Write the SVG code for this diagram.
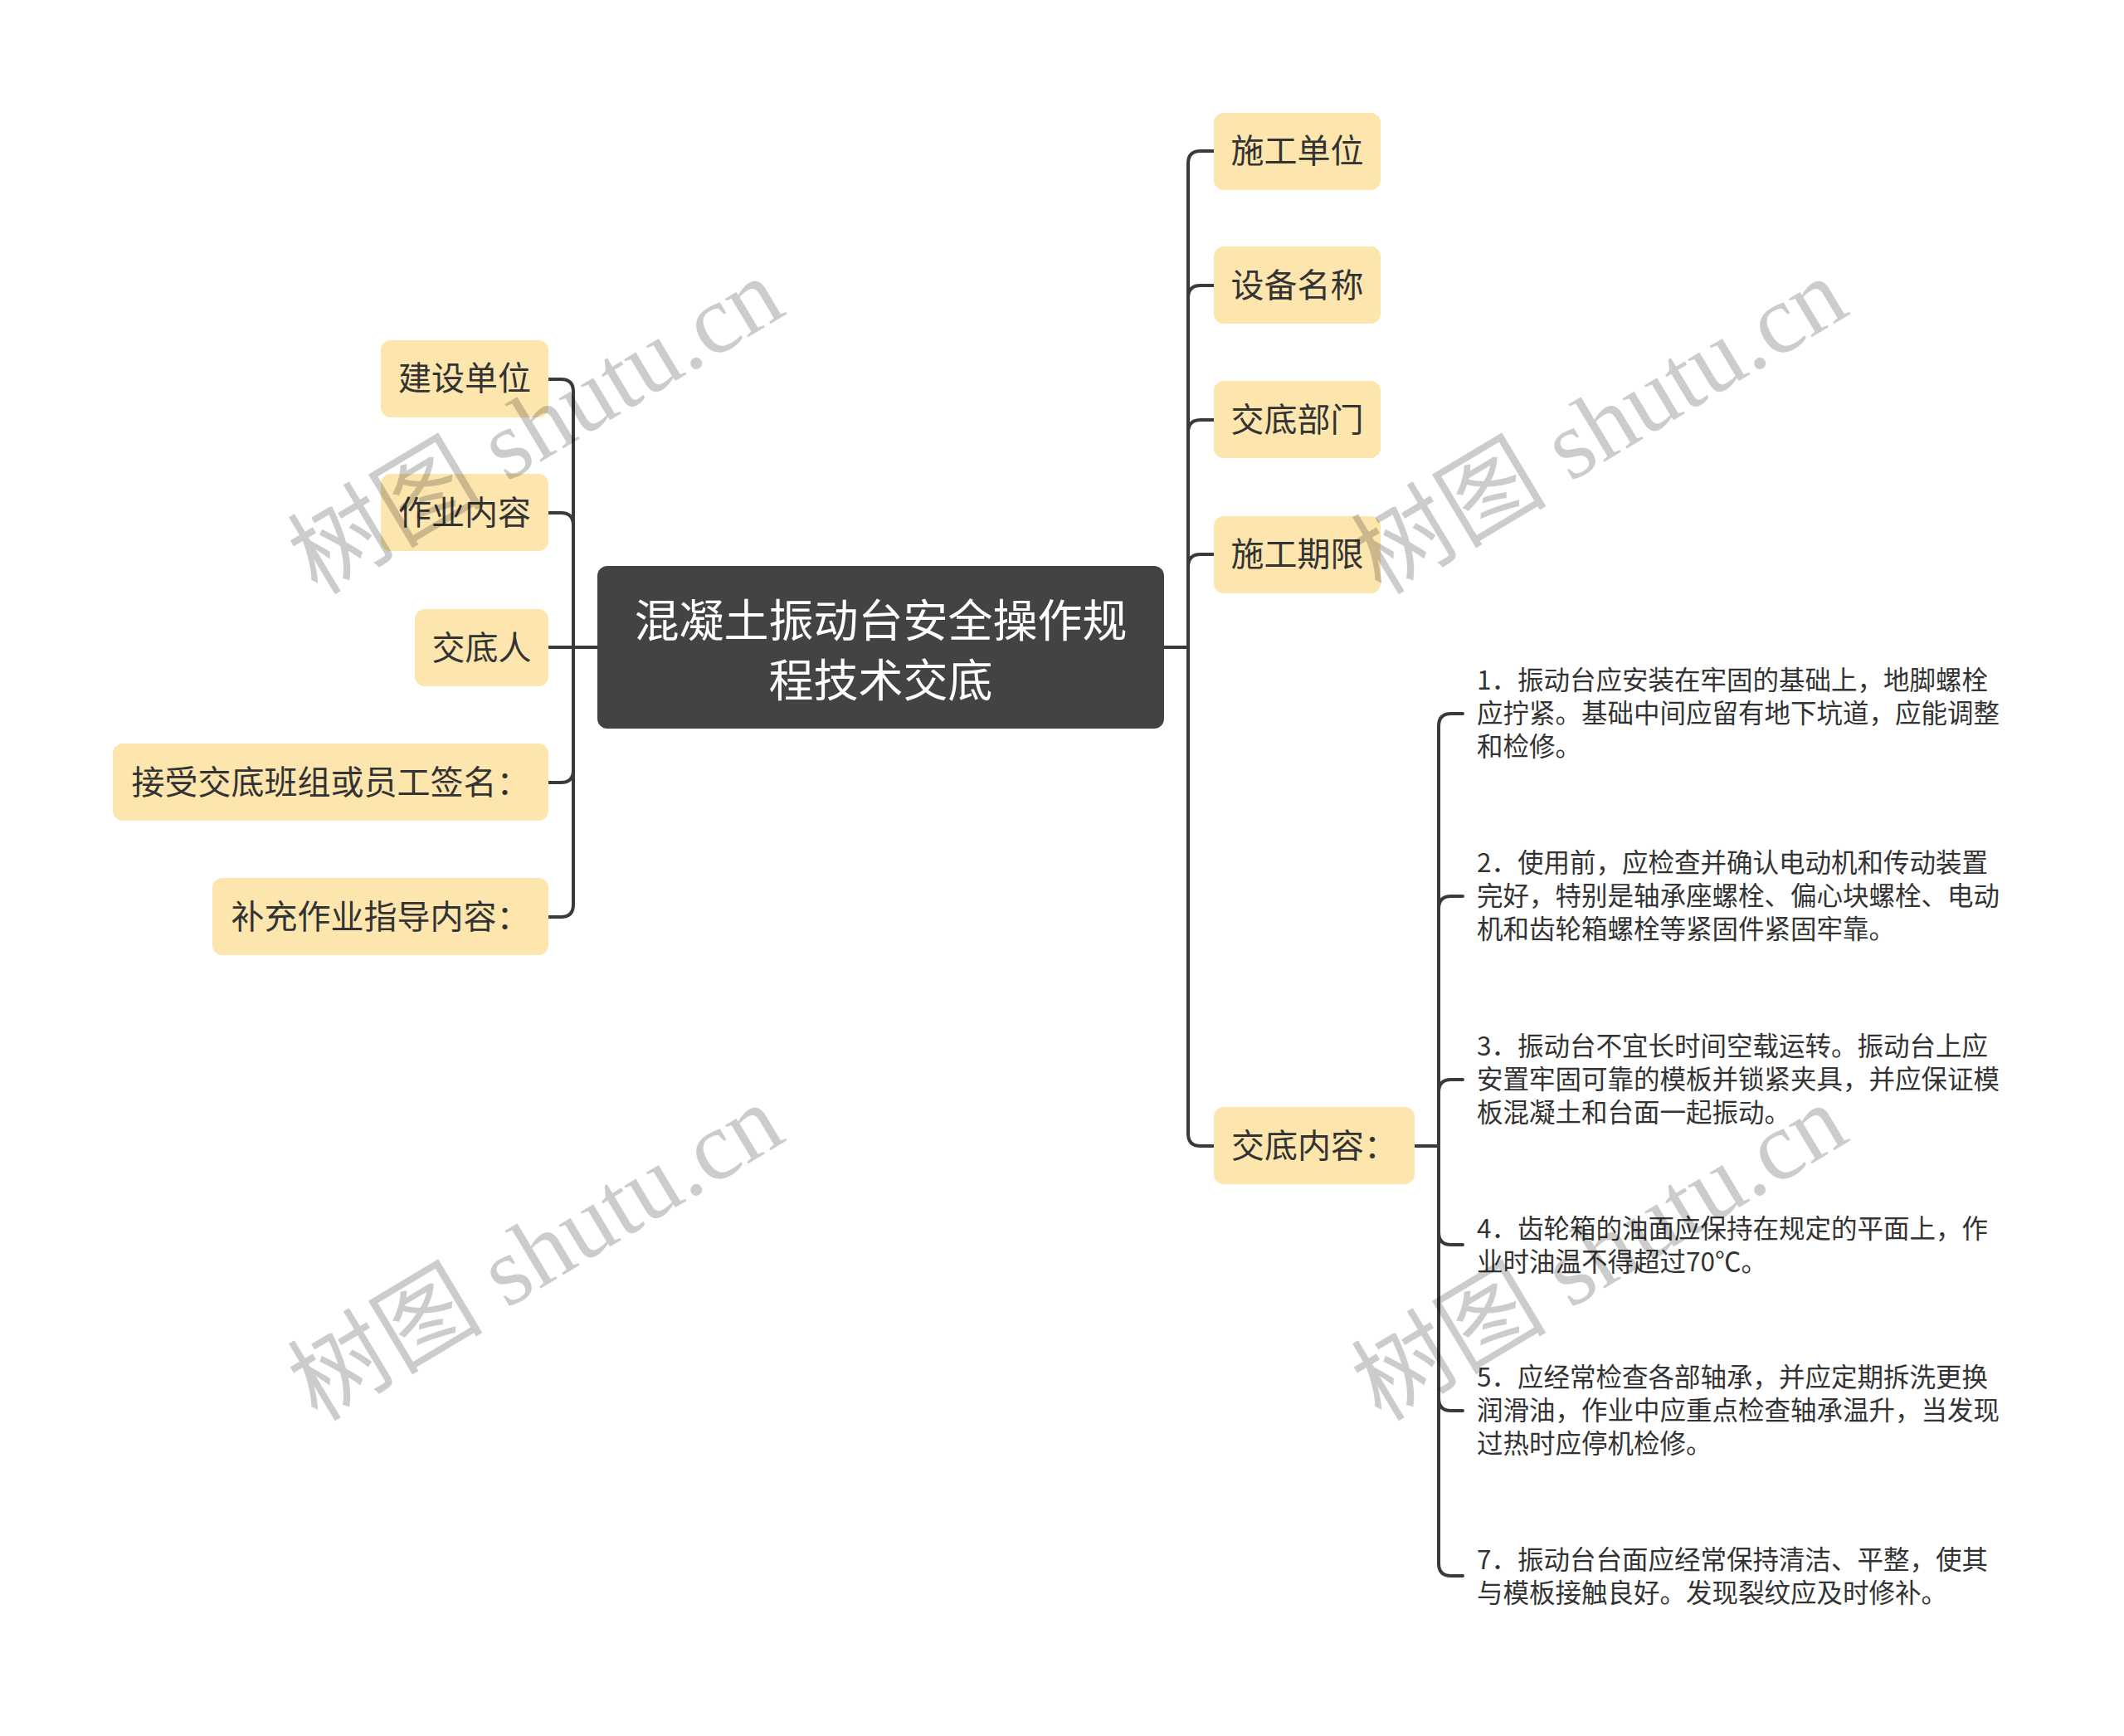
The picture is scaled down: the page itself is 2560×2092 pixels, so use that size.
<svg xmlns="http://www.w3.org/2000/svg" width="2560" height="2092" viewBox="0 0 2560 2092">
<style>
.bg{fill:#ffffff}
.root rect{fill:#434343}
.root text{fill:#ffffff;font-family:"Noto Sans CJK SC","Noto Sans",sans-serif;font-size:54px;text-anchor:middle;dominant-baseline:central}
.n1 rect{fill:#fde5ae}
.n1 text{fill:#333333;font-family:"Noto Sans CJK SC","Noto Sans",sans-serif;font-size:40px;text-anchor:middle;dominant-baseline:central}
.n2 text{fill:#333333;font-family:"Noto Sans CJK SC","Noto Sans",sans-serif;font-size:31.5px;dominant-baseline:central}
.wm{fill:#000000;fill-opacity:0.2;font-family:"Liberation Serif","Noto Sans CJK SC",serif;font-size:118px;text-anchor:middle;dominant-baseline:central}
#connectors path{fill:none;stroke:#3a3a3a;stroke-width:4;stroke-linecap:round;stroke-linejoin:round}
</style>
<rect class="bg" x="0" y="0" width="2560" height="2092"/>

<g id="connectors">
  <path d="M720,780 H661"/>
  <path d="M691,780 V472 Q691,457 676,457 H661"/>
  <path d="M691,780 V633 Q691,618 676,618 H661"/>
  <path d="M691,780 V928 Q691,943 676,943 H661"/>
  <path d="M691,780 V1090 Q691,1105 676,1105 H661"/>
  <path d="M1403,780 H1432"/>
  <path d="M1432,780 V197 Q1432,182 1447,182 H1463"/>
  <path d="M1432,780 V359 Q1432,344 1447,344 H1463"/>
  <path d="M1432,780 V521 Q1432,506 1447,506 H1463"/>
  <path d="M1432,780 V683 Q1432,668 1447,668 H1463"/>
  <path d="M1432,780 V1366 Q1432,1381 1447,1381 H1463"/>
  <path d="M1705,1381 H1734"/>
  <path d="M1734,1381 V875 Q1734,860 1749,860 H1763"/>
  <path d="M1734,1381 V1095 Q1734,1080 1749,1080 H1763"/>
  <path d="M1734,1381 V1316 Q1734,1301 1749,1301 H1763"/>
  <path d="M1734,1381 V1485 Q1734,1500 1749,1500 H1763"/>
  <path d="M1734,1381 V1685 Q1734,1700 1749,1700 H1763"/>
  <path d="M1734,1381 V1884 Q1734,1899 1749,1899 H1763"/>
</g>

<g id="root" class="root">
  <rect x="720" y="682" width="683" height="196" rx="12"/>
  <text x="1061.5" y="744">混凝土振动台安全操作规</text>
  <text x="1061.5" y="816">程技术交底</text>
</g>

<g id="node-jianshe" class="n1"><rect x="459" y="410" width="202" height="93" rx="12"/><text x="560" y="453">建设单位</text></g>
<g id="node-zuoye" class="n1"><rect x="459" y="571" width="202" height="93" rx="12"/><text x="560" y="615">作业内容</text></g>
<g id="node-jiaodiren" class="n1"><rect x="500" y="734" width="161" height="93" rx="12"/><text x="580.5" y="778">交底人</text></g>
<g id="node-qianming" class="n1"><rect x="136" y="896" width="525" height="93" rx="12"/><text x="398.5" y="940">接受交底班组或员工签名：</text></g>
<g id="node-buchong" class="n1"><rect x="256" y="1058" width="405" height="93" rx="12"/><text x="458.5" y="1102">补充作业指导内容：</text></g>

<g id="node-shigong" class="n1"><rect x="1463" y="136" width="201" height="93" rx="12"/><text x="1563.5" y="179">施工单位</text></g>
<g id="node-shebei" class="n1"><rect x="1463" y="297" width="201" height="93" rx="12"/><text x="1563.5" y="341">设备名称</text></g>
<g id="node-bumen" class="n1"><rect x="1463" y="459" width="201" height="93" rx="12"/><text x="1563.5" y="503">交底部门</text></g>
<g id="node-qixian" class="n1"><rect x="1463" y="622" width="201" height="93" rx="12"/><text x="1563.5" y="665">施工期限</text></g>
<g id="node-neirong" class="n1"><rect x="1463" y="1334" width="242" height="93" rx="12"/><text x="1584" y="1378">交底内容：</text></g>

<g id="item-1" class="n2"><text x="1780">
  <tspan x="1780" y="817">1．振动台应安装在牢固的基础上，地脚螺栓</tspan>
  <tspan x="1780" y="857">应拧紧。基础中间应留有地下坑道，应能调整</tspan>
  <tspan x="1780" y="897">和检修。</tspan></text></g>
<g id="item-2" class="n2"><text x="1780">
  <tspan x="1780" y="1037">2．使用前，应检查并确认电动机和传动装置</tspan>
  <tspan x="1780" y="1077">完好，特别是轴承座螺栓、偏心块螺栓、电动</tspan>
  <tspan x="1780" y="1117">机和齿轮箱螺栓等紧固件紧固牢靠。</tspan></text></g>
<g id="item-3" class="n2"><text x="1780">
  <tspan x="1780" y="1258">3．振动台不宜长时间空载运转。振动台上应</tspan>
  <tspan x="1780" y="1298">安置牢固可靠的模板并锁紧夹具，并应保证模</tspan>
  <tspan x="1780" y="1338">板混凝土和台面一起振动。</tspan></text></g>
<g id="item-4" class="n2"><text x="1780">
  <tspan x="1780" y="1478">4．齿轮箱的油面应保持在规定的平面上，作</tspan>
  <tspan x="1780" y="1518">业时油温不得超过70℃。</tspan></text></g>
<g id="item-5" class="n2"><text x="1780">
  <tspan x="1780" y="1657">5．应经常检查各部轴承，并应定期拆洗更换</tspan>
  <tspan x="1780" y="1697">润滑油，作业中应重点检查轴承温升，当发现</tspan>
  <tspan x="1780" y="1737">过热时应停机检修。</tspan></text></g>
<g id="item-7" class="n2"><text x="1780">
  <tspan x="1780" y="1877">7．振动台台面应经常保持清洁、平整，使其</tspan>
  <tspan x="1780" y="1917">与模板接触良好。发现裂纹应及时修补。</tspan></text></g>

<g id="watermarks">
  <text class="wm" x="646" y="514" transform="rotate(-31 646 514)">树图 shutu.cn</text>
  <text class="wm" x="1928" y="514" transform="rotate(-31 1928 514)">树图 shutu.cn</text>
  <text class="wm" x="646" y="1510" transform="rotate(-31 646 1510)">树图 shutu.cn</text>
  <text class="wm" x="1928" y="1510" transform="rotate(-31 1928 1510)">树图 shutu.cn</text>
</g>
</svg>
